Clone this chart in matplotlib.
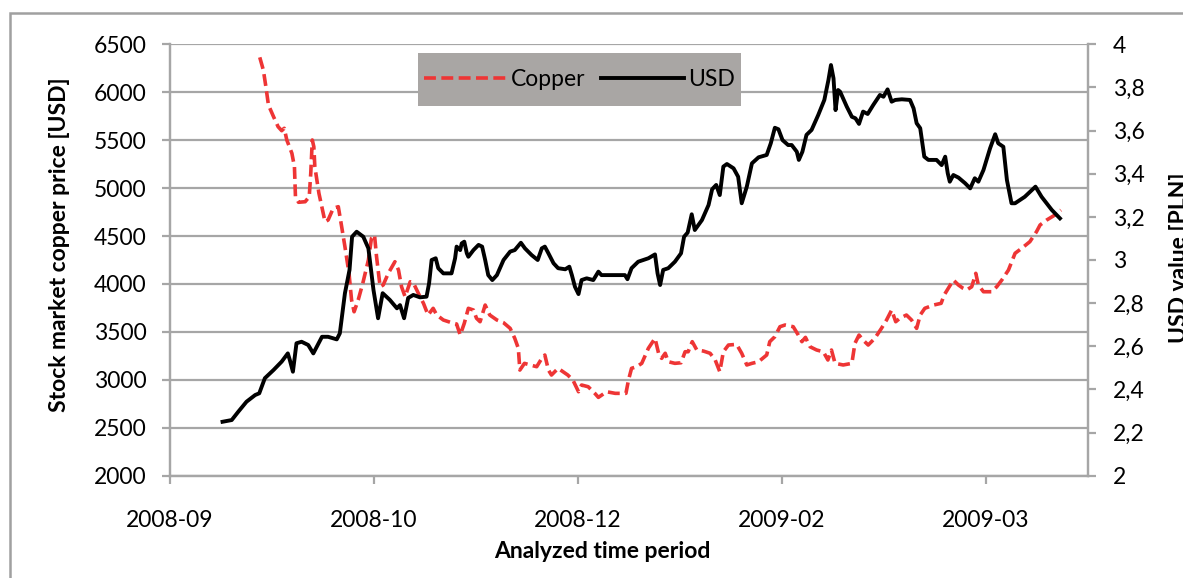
import matplotlib
matplotlib.use("Agg")
import matplotlib.pyplot as plt
from matplotlib.patches import Rectangle
from matplotlib.ticker import FuncFormatter

plt.rcParams['font.family'] = ['Lato', 'DejaVu Sans']

# time axis in trading-day index, labels as printed on the original chart
tick_pos = [0, 40, 80, 120, 160]
tick_labels = ['2008-09', '2008-10', '2008-12', '2009-02', '2009-03']

# copper price [USD] (left axis)
copper_x = [17.6, 18.3, 18.8, 19.3, 20.3, 21.2, 21.9, 22.4, 22.9, 23.9, 24.4, 24.6, 25.2, 26.5, 27.3,
            27.6, 27.9, 28.2, 28.4, 29.2, 30.4, 31.0, 32.0, 33.0, 33.5, 34.3, 35.1, 35.6, 36.1, 36.9,
            37.8, 38.9, 39.5, 40.1, 40.5, 41.2, 41.8, 42.8, 44.1, 44.8, 45.4, 46.1, 47.1, 47.7, 48.7,
            49.7, 50.6, 51.6, 52.3, 53.6, 55.2, 56.2, 56.9, 57.7, 58.5, 59.5, 60.1, 60.8, 61.8, 62.7,
            64.1, 65.4, 66.7, 67.6, 68.3, 68.6, 69.5, 70.6, 71.9, 72.9, 73.5, 74.2, 74.8, 76.1, 78.0,
            79.0, 80.1, 80.7, 82.0, 83.3, 84.0, 85.6, 87.3, 89.4, 89.9, 90.5, 91.5, 92.5, 93.8, 95.1,
            95.8, 96.4, 97.1, 97.7, 99.0, 100.2, 101.0, 101.6, 102.4, 103.3, 104.6, 105.9, 106.9, 107.8,
            108.5, 109.5, 111.1, 112.1, 113.1, 114.1, 115.4, 117.0, 117.6, 118.6, 119.6, 120.6, 122.2,
            123.2, 123.9, 124.6, 125.5, 126.8, 128.1, 129.0, 129.7, 130.4, 132.0, 133.7, 134.3, 135.1,
            135.9, 136.9, 138.2, 139.5, 140.5, 141.5, 142.3, 143.1, 144.4, 145.4, 146.4, 147.1, 148.0,
            149.7, 151.2, 151.8, 152.6, 153.6, 154.6, 155.5, 156.2, 157.2, 158.0, 158.5, 159.5, 161.1,
            162.1, 163.1, 164.4, 165.7, 167.0, 168.6, 169.9, 170.6, 171.9, 173.5, 174.7]
copper = [6364, 6232, 6058, 5867, 5745, 5640, 5599, 5624, 5502, 5363, 5223, 4910, 4852, 4858, 4910,
          5154, 5502, 5432, 5223, 4946, 4649, 4667, 4789, 4806, 4649, 4389, 4111, 3833, 3710, 3833,
          4007, 4250, 4476, 4511, 4284, 3971, 3989, 4111, 4232, 4146, 3971, 3867, 4023, 4013, 3902,
          3798, 3676, 3746, 3676, 3624, 3596, 3582, 3467, 3589, 3746, 3728, 3642, 3606, 3780, 3676,
          3624, 3596, 3537, 3433, 3329, 3102, 3172, 3155, 3137, 3224, 3259, 3102, 3050, 3120, 3050,
          2998, 2876, 2946, 2928, 2859, 2817, 2876, 2859, 2859, 2998, 3120, 3137, 3172, 3329, 3433,
          3277, 3224, 3277, 3189, 3172, 3178, 3293, 3293, 3398, 3311, 3300, 3277, 3207, 3085,
          3293, 3363, 3370, 3277, 3155, 3172, 3189, 3259, 3398, 3450, 3554, 3572, 3554,
          3467, 3398, 3443, 3345, 3311, 3293, 3207, 3311, 3172, 3155, 3172, 3381, 3467,
          3415, 3363, 3433, 3537, 3624, 3728, 3606, 3642, 3676, 3624, 3537, 3676, 3746,
          3780, 3798, 3885, 3955, 4041, 3989, 3955, 3937, 3971, 4111, 3989, 3919, 3919,
          3971, 4041, 4145, 4320, 4372, 4441, 4545, 4615, 4667, 4719, 4771]

# USD value [PLN] (right axis)
usd_x = [10.3, 12.1, 13.4, 15.0, 16.7, 17.5, 18.6, 20.3, 21.9, 23.1, 23.5, 24.1, 24.8, 25.8, 27.1,
         28.1, 29.8, 31.0, 32.7, 33.3, 34.3, 35.2, 35.7, 36.6, 37.9, 38.9, 39.9, 40.8, 41.7, 43.1,
         44.5, 45.1, 45.9, 46.7, 47.7, 49.0, 50.3, 50.8, 51.3, 52.1, 52.6, 53.6, 55.2, 55.9, 56.2,
         56.9, 57.2, 57.7, 58.2, 58.5, 59.5, 60.5, 61.2, 61.8, 62.4, 63.2, 64.1, 65.4, 66.7, 67.6,
         68.8, 69.6, 70.9, 72.1, 72.9, 73.5, 74.2, 75.2, 76.1, 77.5, 78.3, 78.8, 79.4, 80.1, 80.7,
         81.7, 83.0, 84.0, 84.6, 85.9, 89.2, 89.7, 90.5, 91.8, 93.8, 95.1, 95.6, 96.1, 96.7, 97.7,
         99.0, 100.2, 100.8, 101.5, 102.3, 102.9, 104.3, 105.6, 106.3, 107.1, 107.8, 108.5, 109.2,
         110.5, 111.4, 112.1, 113.1, 114.1, 115.4, 117.0, 117.8, 118.6, 119.3, 120.1, 121.2, 121.9,
         122.9, 123.3, 124.0, 124.8, 125.8, 127.1, 128.3, 129.1, 129.6, 130.1, 130.5, 131.0, 131.4,
         132.7, 133.7, 134.4, 135.1, 135.9, 136.8, 137.9, 139.2, 139.9, 140.7, 141.5, 142.2, 143.5,
         145.1, 145.8, 146.4, 147.1, 147.9, 148.7, 150.3, 151.3, 152.0, 152.5, 152.9, 153.6, 154.6,
         155.9, 156.9, 157.8, 158.5, 159.5, 160.8, 161.8, 162.4, 163.4, 164.1, 165.0, 165.7, 167.6,
         169.7, 170.9, 172.9, 174.5]
usd = [2.250, 2.258, 2.297, 2.343, 2.374, 2.382, 2.452, 2.490, 2.529, 2.567, 2.536, 2.482, 2.614, 2.621, 2.606,
       2.567, 2.644, 2.644, 2.632, 2.660, 2.846, 2.954, 3.108, 3.131, 3.108, 3.054, 2.861, 2.730, 2.846, 2.815,
       2.776, 2.791, 2.730, 2.824, 2.838, 2.827, 2.830, 2.892, 3.000, 3.008, 2.962, 2.938, 2.938, 3.008, 3.062,
       3.046, 3.077, 3.085, 3.031, 3.015, 3.046, 3.070, 3.062, 3.000, 2.930, 2.907, 2.930, 3.000, 3.039, 3.046,
       3.080, 3.054, 3.023, 3.000, 3.054, 3.062, 3.031, 2.985, 2.962, 2.957, 2.969, 2.930, 2.876, 2.842, 2.907,
       2.915, 2.907, 2.946, 2.930, 2.930, 2.930, 2.911, 2.962, 2.992, 3.008, 3.026, 2.938, 2.884, 2.954, 2.962,
       2.992, 3.031, 3.108, 3.127, 3.212, 3.139, 3.185, 3.255, 3.328, 3.348, 3.301, 3.433, 3.445,
       3.425, 3.386, 3.263, 3.340, 3.448, 3.476, 3.487, 3.541, 3.613, 3.606, 3.556, 3.533, 3.533,
       3.502, 3.464, 3.502, 3.580, 3.603, 3.672, 3.742, 3.834, 3.904, 3.842, 3.695, 3.788, 3.780,
       3.711, 3.664, 3.657, 3.631, 3.688, 3.677, 3.719, 3.765, 3.757, 3.791, 3.734, 3.742, 3.745,
       3.742, 3.703, 3.634, 3.611, 3.479, 3.464, 3.464, 3.440, 3.479, 3.402, 3.363, 3.394, 3.382,
       3.356, 3.332, 3.379, 3.363, 3.417, 3.518, 3.583, 3.541, 3.525, 3.371, 3.263, 3.263, 3.293,
       3.340, 3.293, 3.232, 3.193]

W, H = 1183, 578
grid_c = '#a6a6a6'
red = '#ee3535'
fs = 16.5

fig = plt.figure(figsize=(W / 100, H / 100), dpi=100)
ax = fig.add_axes([170 / W, 1 - 475.7 / H, 918 / W, 431.4 / H])
ax2 = ax.twinx()

# outer chart frame (cut off at right and bottom like the original)
fig.patches.append(Rectangle((9.5 / W, -0.1), 1.2, 1 - 12.7 / H + 0.1, transform=fig.transFigure,
                             fill=False, edgecolor='#a0a0a0', linewidth=1.8))

ax.plot(copper_x, copper, color=red, lw=2.6, linestyle=(0, (3.3, 1.5)), label='Copper', zorder=3,
        solid_joinstyle='round', dash_joinstyle='round')
ax2.plot(usd_x, usd, color='black', lw=2.8, label='USD', zorder=3, solid_joinstyle='round')

ax.set_xlim(0, 180)
ax.set_ylim(2000, 6500)
ax.set_yticks(range(2000, 6501, 500))
ax2.set_ylim(2, 4)
ax2.set_yticks([2 + 0.2 * i for i in range(11)])
ax2.yaxis.set_major_formatter(FuncFormatter(lambda v, p: ('%.1f' % v).rstrip('0').rstrip('.').replace('.', ',')))
ax.set_xticks(tick_pos)
ax.set_xticklabels(tick_labels)

ax.grid(axis='y', color=grid_c, lw=1.6)
ax.set_axisbelow(True)
for a in (ax, ax2):
    for s in a.spines.values():
        s.set_color(grid_c)
        s.set_linewidth(1.6)
    a.spines['top'].set_visible(False)
ax.tick_params(axis='y', length=6, width=1.6, color=grid_c, pad=11, labelsize=fs)
ax.tick_params(axis='x', length=6, width=1.6, color=grid_c, pad=19, labelsize=fs)
ax2.tick_params(axis='y', length=6, width=1.6, color=grid_c, pad=12, labelsize=fs)

fig.text(60 / W, 1 - 245 / H, 'Stock market copper price [USD]', rotation=90, ha='center', va='center',
         fontsize=fs, fontweight='bold')
fig.text(602 / W, 1 - 551 / H, 'Analyzed time period', ha='center', va='center',
         fontsize=fs, fontweight='bold')
# right label sits at the very edge, partly cut as in the source image
fig.text(1180 / W, 1 - 258 / H, 'USD value [PLN]', rotation=90, ha='center', va='center',
         fontsize=fs, fontweight='bold')

# legend on a grey panel
ax.add_patch(Rectangle((418 / W, 1 - 106 / H), 323 / W, 53 / H, transform=fig.transFigure,
                       facecolor='#a9a6a4', edgecolor='none', zorder=1))
h1, l1 = ax.get_legend_handles_labels()
h2, l2 = ax2.get_legend_handles_labels()
leg = ax2.legend(h1 + h2, l1 + l2, loc='center', bbox_to_anchor=(579.5 / W, 1 - 79.5 / H),
                 bbox_transform=fig.transFigure, ncol=2, frameon=False, fontsize=fs,
                 handlelength=3.6, handletextpad=0.2, columnspacing=0.7)

fig.savefig('out.png', dpi=100)
